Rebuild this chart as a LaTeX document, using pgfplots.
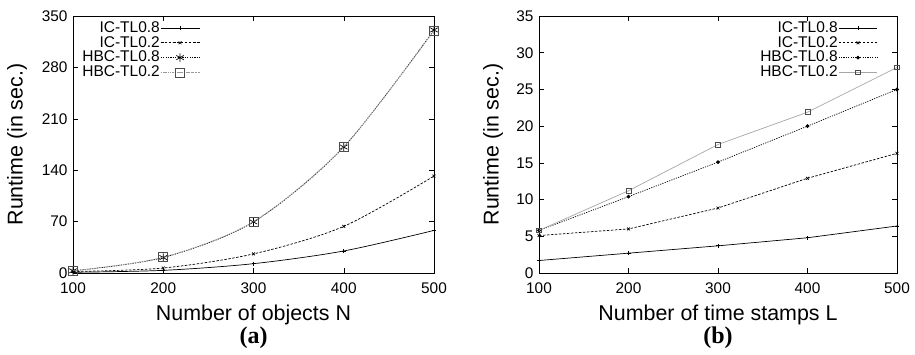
\documentclass[border=0pt]{standalone}
\usepackage{fontspec}
\setmainfont{Liberation Sans}
\newfontfamily\serifbf{Liberation Serif}
\usepackage{pgfplots}
\pgfplotsset{compat=1.18}
\pgfplotsset{
  common/.style={
    scale only axis, anchor=south west, clip mode=individual,
    xmin=100, xmax=500, xtick={100,200,300,400,500},
    tick align=inside, major tick length=5pt,
    tick style={black, line width=0.5pt},
    axis line style={line width=0.6pt},
    /pgf/number format/assume math mode=true,
    ticklabel style={font=\fontsize{15.4}{17}\selectfont, inner sep=1pt},
    xticklabel style={yshift=-8.5pt},
    yticklabel style={xshift=-4.3pt},
    label style={font=\fontsize{21.4}{24}\selectfont},
    legend cell align=right, legend plot pos=right,
    legend style={draw=none, fill=none, font=\fontsize{15.5}{15}\selectfont,
      nodes={inner sep=0.5pt, text height=11pt, text depth=2.5pt}, row sep=0.3pt},
    legend image code/.code={\draw[mark repeat=2,mark phase=2] plot coordinates {(0cm,0cm)(0.68cm,0cm)(1.36cm,0cm)};},
    every axis plot/.append style={line width=0.7pt},
    xlabel style={at={(axis description cs:0.5,-0.163)}, anchor=center},
  },
  s1/.style={black, solid, mark=+, mark size=2pt, mark options={solid}},
  s2/.style={black, dash pattern=on 2.5pt off 1.5pt, mark=x, mark size=2pt, mark options={solid}},
  s3/.style={black, dash pattern=on 1.2pt off 1.2pt, mark=asterisk, mark size=4.3pt, mark options={solid}},
  s4/.style={gray!80, dash pattern=on 1.5pt off 0.8pt, mark=square, mark size=4.5pt, mark options={solid, black!70}},
}
\begin{document}
\begin{tikzpicture}
\useasboundingbox (0,0) rectangle (915pt,355pt);
\begin{axis}[common, at={(73pt,82pt)}, width=361pt, height=257pt,
  ymin=0, ymax=350, ytick={0,70,140,210,280,350},
  xlabel={Number of objects N}, ylabel={Runtime (in sec.)},
  ylabel style={at={(axis description cs:-0.155,0.5)}, anchor=center},
  legend style={at={(axis description cs:0.36,0.99)}, anchor=north east}]
\addplot[s1, smooth] coordinates {(100,1) (200,3.6) (300,12.7) (400,30) (500,58)};
\addlegendentry{IC-TL0.8}
\addplot[s2, smooth] coordinates {(100,2) (200,6.8) (300,26) (400,63.5) (500,132)};
\addlegendentry{IC-TL0.2}
\addplot[s3, smooth] coordinates {(100,3) (200,21) (300,69.5) (400,171.5) (500,331)};
\addlegendentry{HBC-TL0.8}
\addplot[s4, smooth] coordinates {(100,3) (200,21.5) (300,70) (400,172) (500,330)};
\addlegendentry{HBC-TL0.2}
\node[font=\serifbf\bfseries\fontsize{24}{26}\selectfont] at (axis description cs:0.5,-0.252) {(a)};
\end{axis}
\begin{axis}[common, at={(539pt,82pt)}, width=358pt, height=257pt,
  ymin=0, ymax=35, ytick={0,5,10,15,20,25,30,35},
  xlabel={Number of time stamps L}, ylabel={Runtime (in sec.)},
  ylabel style={at={(axis description cs:-0.128,0.5)}, anchor=center},
  legend style={at={(axis description cs:0.955,0.99)}, anchor=north east},
  s3/.append style={mark=*, mark size=1.6pt},
  s4/.append style={mark size=2.4pt, solid, gray!70}]
\addplot[s1] coordinates {(100,1.7) (200,2.7) (300,3.7) (400,4.8) (500,6.4)};
\addlegendentry{IC-TL0.8}
\addplot[s2] coordinates {(100,5.1) (200,6.0) (300,8.85) (400,12.9) (500,16.3)};
\addlegendentry{IC-TL0.2}
\addplot[s3] coordinates {(100,5.8) (200,10.4) (300,15.1) (400,20) (500,25)};
\addlegendentry{HBC-TL0.8}
\addplot[s4] coordinates {(100,5.8) (200,11.2) (300,17.5) (400,21.9) (500,28)};
\addlegendentry{HBC-TL0.2}
\node[font=\serifbf\bfseries\fontsize{24}{26}\selectfont] at (axis description cs:0.5,-0.252) {(b)};
\end{axis}
\end{tikzpicture}
\end{document}
